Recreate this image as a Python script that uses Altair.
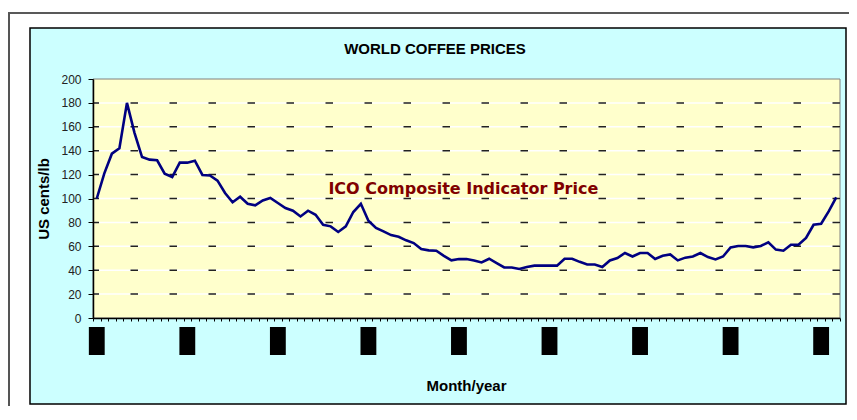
import altair as alt
import pandas as pd

# ---- data ----
month_index = list(range(99))
prices = [100, 121, 137.5, 142, 180, 155, 134.7, 132.5, 132, 120.8,
          118, 130, 130, 131.6, 119.7, 119.3, 115, 104.6, 96.8, 101.5,
          95.6, 94.3, 98.4, 100.4, 96.2, 92, 89.8, 85, 89.8, 86.4,
          78, 76.7, 72, 76.7, 88.7, 95.6, 81.4, 75.3, 72.5, 69.4,
          68, 65, 62.7, 57.7, 56.6, 56.3, 52, 48.2, 49.3, 49.3,
          48.2, 46.5, 49.6, 46, 42.3, 42.3, 41, 42.7, 43.8, 43.8,
          43.8, 43.8, 49.6, 49.6, 47, 44.8, 44.8, 42.7, 48.2, 50.2,
          54.4, 51.5, 54.4, 54.4, 49.4, 52.1, 53.2, 48.2, 50.5, 51.5,
          54.4, 51, 49, 51.5, 59.1, 60.3, 60.3, 59.1, 60.3, 63.3,
          57.2, 56.3, 61.3, 61.3, 67, 78, 78.9, 89.2, 101]
y_ticks = [0, 20, 40, 60, 80, 100, 120, 140, 160, 180, 200]
grid_values = [20, 40, 60, 80, 100, 120, 140, 160, 180]
x_tick_values = [i - 0.5 for i in range(100)]
label_index = [0, 12, 24, 36, 48, 60, 72, 84, 96]   # redacted year labels
ann_x = [30.7]
ann_y = [108]
ann_text = ["ICO Composite Indicator Price"]
chart_title = "WORLD COFFEE PRICES"

W, H = 747, 239

df = pd.DataFrame({"i": month_index, "price": prices})
grid_df = pd.DataFrame({"g": grid_values})
lab_df = pd.DataFrame({"i": label_index})
ann_df = pd.DataFrame({"x": ann_x, "y": ann_y, "t": ann_text})
one = pd.DataFrame({"a": [0]})

xs = alt.Scale(domain=[-0.5, 98.5], nice=False, zero=False)
ys = alt.Scale(domain=[0, 200], nice=False)

x_axis = alt.Axis(
    values=x_tick_values, labels=False, grid=False, tickSize=3,
    tickColor="#000", domainColor="#000", domainWidth=1.5, zindex=1,
    title="Month/year", titleFont="Liberation Sans", titleFontSize=15,
    titleFontWeight="bold", titleColor="#000", titleX=373, titleY=67,
    titleBaseline="middle", titleAlign="center")
y_axis = alt.Axis(
    values=y_ticks, grid=False, tickSize=5, tickColor="#000",
    domainColor="#000", domainWidth=1.5, zindex=1,
    labelFont="Liberation Sans", labelFontSize=12, labelColor="#222",
    labelPadding=7,
    title="US cents/lb", titleFont="Liberation Sans", titleFontSize=15,
    titleFontWeight="bold", titleColor="#000", titleX=-49.5, titleY=119.5,
    titleAngle=-90, titleBaseline="middle", titleAlign="center")

outer_top = alt.Chart(one).mark_rule(color="#222", strokeWidth=1.5).encode(
    x=alt.value(-85), x2=alt.value(W + 9), y=alt.value(-66))
outer_left = alt.Chart(one).mark_rule(color="#555", strokeWidth=2).encode(
    x=alt.value(-84), y=alt.value(-66), y2=alt.value(H + 88))

box = alt.Chart(one).mark_rect(fill="#CCFFFF", stroke="#000", strokeWidth=1.5).encode(
    x=alt.value(-63), x2=alt.value(753), y=alt.value(-51), y2=alt.value(325))

plot_bg = alt.Chart(one).mark_rect(fill="#FFFFCC", stroke="#808080", strokeWidth=1).encode(
    x=alt.value(0), x2=alt.value(W), y=alt.value(0), y2=alt.value(H))

grid_white = alt.Chart(grid_df).mark_rule(color="white", strokeWidth=1.5).encode(
    y=alt.Y("g:Q", scale=ys, axis=y_axis))
grid_dash = alt.Chart(grid_df).mark_rule(color="#222", strokeWidth=1.5,
                                         strokeDash=[7.5, 31.5]).encode(
    y=alt.Y("g:Q", scale=ys, axis=y_axis))

line = alt.Chart(df).mark_line(color="#000080", strokeWidth=2.6).encode(
    x=alt.X("i:Q", scale=xs, axis=x_axis),
    y=alt.Y("price:Q", scale=ys, axis=y_axis))

redact = alt.Chart(lab_df).transform_calculate(
    x0="datum.i - 1.05", x1="datum.i + 1.05").mark_rect(color="#000").encode(
    x=alt.X("x0:Q", scale=xs, axis=x_axis), x2="x1:Q",
    y=alt.value(H + 9), y2=alt.value(H + 37))

ann = alt.Chart(ann_df).mark_text(
    font="DejaVu Sans", fontSize=16, fontWeight="bold", color="#800000",
    align="left", baseline="middle").encode(
    x=alt.X("x:Q", scale=xs, axis=x_axis),
    y=alt.Y("y:Q", scale=ys, axis=y_axis), text="t:N")

title = alt.Chart(one).mark_text(
    font="Liberation Sans", fontSize=15, fontWeight="bold", color="#000",
    align="center", baseline="middle").encode(
    x=alt.value(342), y=alt.value(-30.5), text=alt.value(chart_title))

chart = alt.layer(outer_top, outer_left, box, plot_bg, grid_white, grid_dash,
                  line, redact, ann, title).properties(
    width=W, height=H, autosize="none",
    padding={"left": 85, "top": 71, "right": 9, "bottom": 88},
    background="white").configure_view(stroke=None)

chart.save("out.html", embed_options={"renderer": "svg", "actions": False})
